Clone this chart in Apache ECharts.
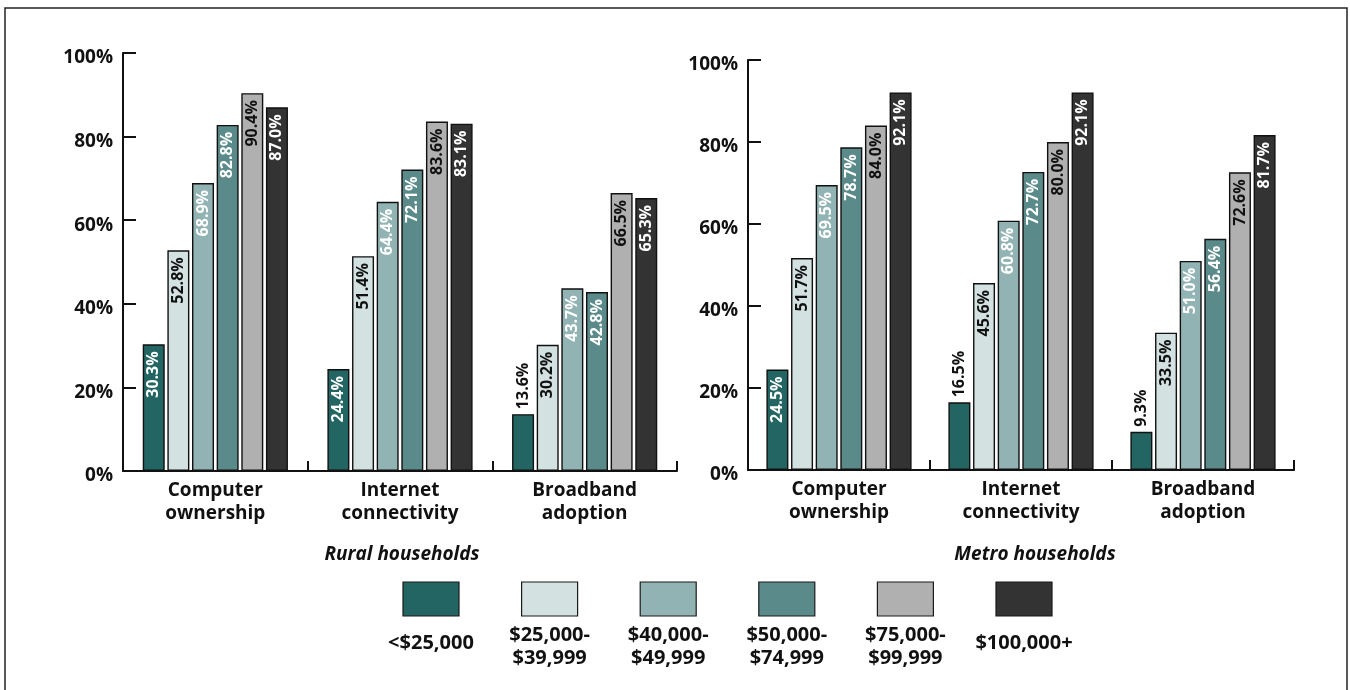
<!DOCTYPE html>
<html>
<head>
<meta charset="utf-8">
<title>Household computer and internet use by income</title>
<script src="https://cdn.jsdelivr.net/npm/echarts@6/dist/echarts.min.js"></script>
<style>
  html, body { margin: 0; padding: 0; background: #fff; }
  #chart { width: 1350px; height: 690px; }
</style>
</head>
<body>
<div id="chart"></div>
<script>
// Measures shown on the category axis
const categories = ['Computer\nownership', 'Internet\nconnectivity', 'Broadband\nadoption'];

// Income brackets (one series each)
const brackets = ['<$25,000', '$25,000-\n$39,999', '$40,000-\n$49,999', '$50,000-\n$74,999', '$75,000-\n$99,999', '$100,000+'];

// Rural households, percent, per bracket: [computer, internet, broadband]
const rural_lt25k    = [30.3, 24.4, 13.6];
const rural_25k_40k  = [52.8, 51.4, 30.2];
const rural_40k_50k  = [68.9, 64.4, 43.7];
const rural_50k_75k  = [82.8, 72.1, 42.8];
const rural_75k_100k = [90.4, 83.6, 66.5];
const rural_100kplus = [87.0, 83.1, 65.3];

// Metro households, percent, per bracket: [computer, internet, broadband]
const metro_lt25k    = [24.5, 16.5, 9.3];
const metro_25k_40k  = [51.7, 45.6, 33.5];
const metro_40k_50k  = [69.5, 60.8, 51.0];
const metro_50k_75k  = [78.7, 72.7, 56.4];
const metro_75k_100k = [84.0, 80.0, 72.6];
const metro_100kplus = [92.1, 92.1, 81.7];

// Y axis ticks
const yMin = 0, yMax = 100, yStep = 20;

const panelTitles = ['Rural households', 'Metro households'];

const ruralSets = [rural_lt25k, rural_25k_40k, rural_40k_50k, rural_50k_75k, rural_75k_100k, rural_100kplus];
const metroSets = [metro_lt25k, metro_25k_40k, metro_40k_50k, metro_50k_75k, metro_75k_100k, metro_100kplus];

const FONT = 'Open Sans';
const fills = ['#236562', '#d3e1e1', '#92b3b3', '#5a8b8a', '#b0b0b0', '#333333'];
const labelInk = ['#ffffff', '#111111', '#ffffff', '#ffffff', '#111111', '#ffffff'];

function barSeries(sets, axisIdx) {
  return sets.map((vals, i) => ({
    name: brackets[i],
    type: 'bar',
    xAxisIndex: axisIdx,
    yAxisIndex: axisIdx,
    barWidth: 22,
    barGap: '12%',
    itemStyle: { color: fills[i], borderColor: '#111111', borderWidth: 1.4 },
    label: {
      show: true,
      position: 'insideTop',
      distance: 7,
      rotate: 90,
      align: 'right',
      verticalAlign: 'middle',
      color: labelInk[i],
      fontFamily: FONT,
      fontWeight: 'bold',
      fontSize: 16,
      formatter: p => p.value.toFixed(1) + '%'
    },
    data: vals.map(v => v < 20 ? {
      value: v,
      label: { position: 'top', distance: 5, align: 'left', color: '#111111' }
    } : v)
  }));
}

function xAxisDef(gridIndex) {
  return {
    type: 'category',
    gridIndex,
    data: categories,
    axisLine: { lineStyle: { color: '#111', width: 2 } },
    axisTick: { show: true, inside: true, length: 10, lineStyle: { color: '#111', width: 2 } },
    axisLabel: {
      margin: 8,
      color: '#111',
      fontFamily: FONT,
      fontWeight: 'bold',
      fontSize: 19,
      lineHeight: 23
    }
  };
}

function yAxisDef(gridIndex) {
  return {
    type: 'value',
    gridIndex,
    min: yMin,
    max: yMax,
    interval: yStep,
    axisLine: { show: true, lineStyle: { color: '#111', width: 2 } },
    axisTick: { show: true, inside: true, length: 13, lineStyle: { color: '#111', width: 2 } },
    splitLine: { show: false },
    axisLabel: {
      margin: 10,
      formatter: '{pct|{value}%}',
      rich: {
        pct: {
          color: '#111',
          fontFamily: FONT,
          fontWeight: 'bold',
          fontSize: 19,
          padding: [10, 0, 0, 0]
        }
      }
    }
  };
}

// Legend built from brackets: swatch above its label
const legendGraphics = [];
const swatchLeft = 403, swatchStep = 118.6, swatchW = 56, swatchH = 34, swatchTop = 582;
brackets.forEach((name, i) => {
  const x = swatchLeft + i * swatchStep;
  legendGraphics.push({
    type: 'rect',
    shape: { x, y: swatchTop, width: swatchW, height: swatchH },
    style: { fill: fills[i], stroke: '#1a1a1a', lineWidth: 1.2 }
  });
  const twoLine = name.indexOf('\n') >= 0;
  legendGraphics.push({
    type: 'text',
    x: x + swatchW / 2,
    y: twoLine ? 647 : 643,
    style: {
      text: name,
      fill: '#111',
      font: 'bold 20px "' + FONT + '"',
      lineHeight: 23,
      align: 'center',
      verticalAlign: 'middle'
    }
  });
});

const titleStyle = { fontFamily: FONT, fontWeight: 'bold', fontStyle: 'italic', fontSize: 19, color: '#111' };

const option = {
  backgroundColor: '#ffffff',
  animation: false,
  grid: [
    { left: 123, right: 673, top: 53, bottom: 219 },
    { left: 748, right: 56, top: 60, bottom: 220 }
  ],
  xAxis: [xAxisDef(0), xAxisDef(1)],
  yAxis: [yAxisDef(0), yAxisDef(1)],
  title: [
    { text: panelTitles[0], left: 397, top: 540, textAlign: 'center', textStyle: titleStyle },
    { text: panelTitles[1], left: 1030, top: 540, textAlign: 'center', textStyle: titleStyle }
  ],
  graphic: [
    {
      type: 'rect',
      shape: { x: 5, y: 8, width: 1342, height: 700 },
      style: { fill: 'none', stroke: '#222', lineWidth: 1.5 },
      silent: true
    }
  ].concat(legendGraphics),
  series: barSeries(ruralSets, 0).concat(barSeries(metroSets, 1))
};

const chart = echarts.init(document.getElementById('chart'), null, { renderer: 'canvas' });
chart.setOption(option);
</script>
</body>
</html>
